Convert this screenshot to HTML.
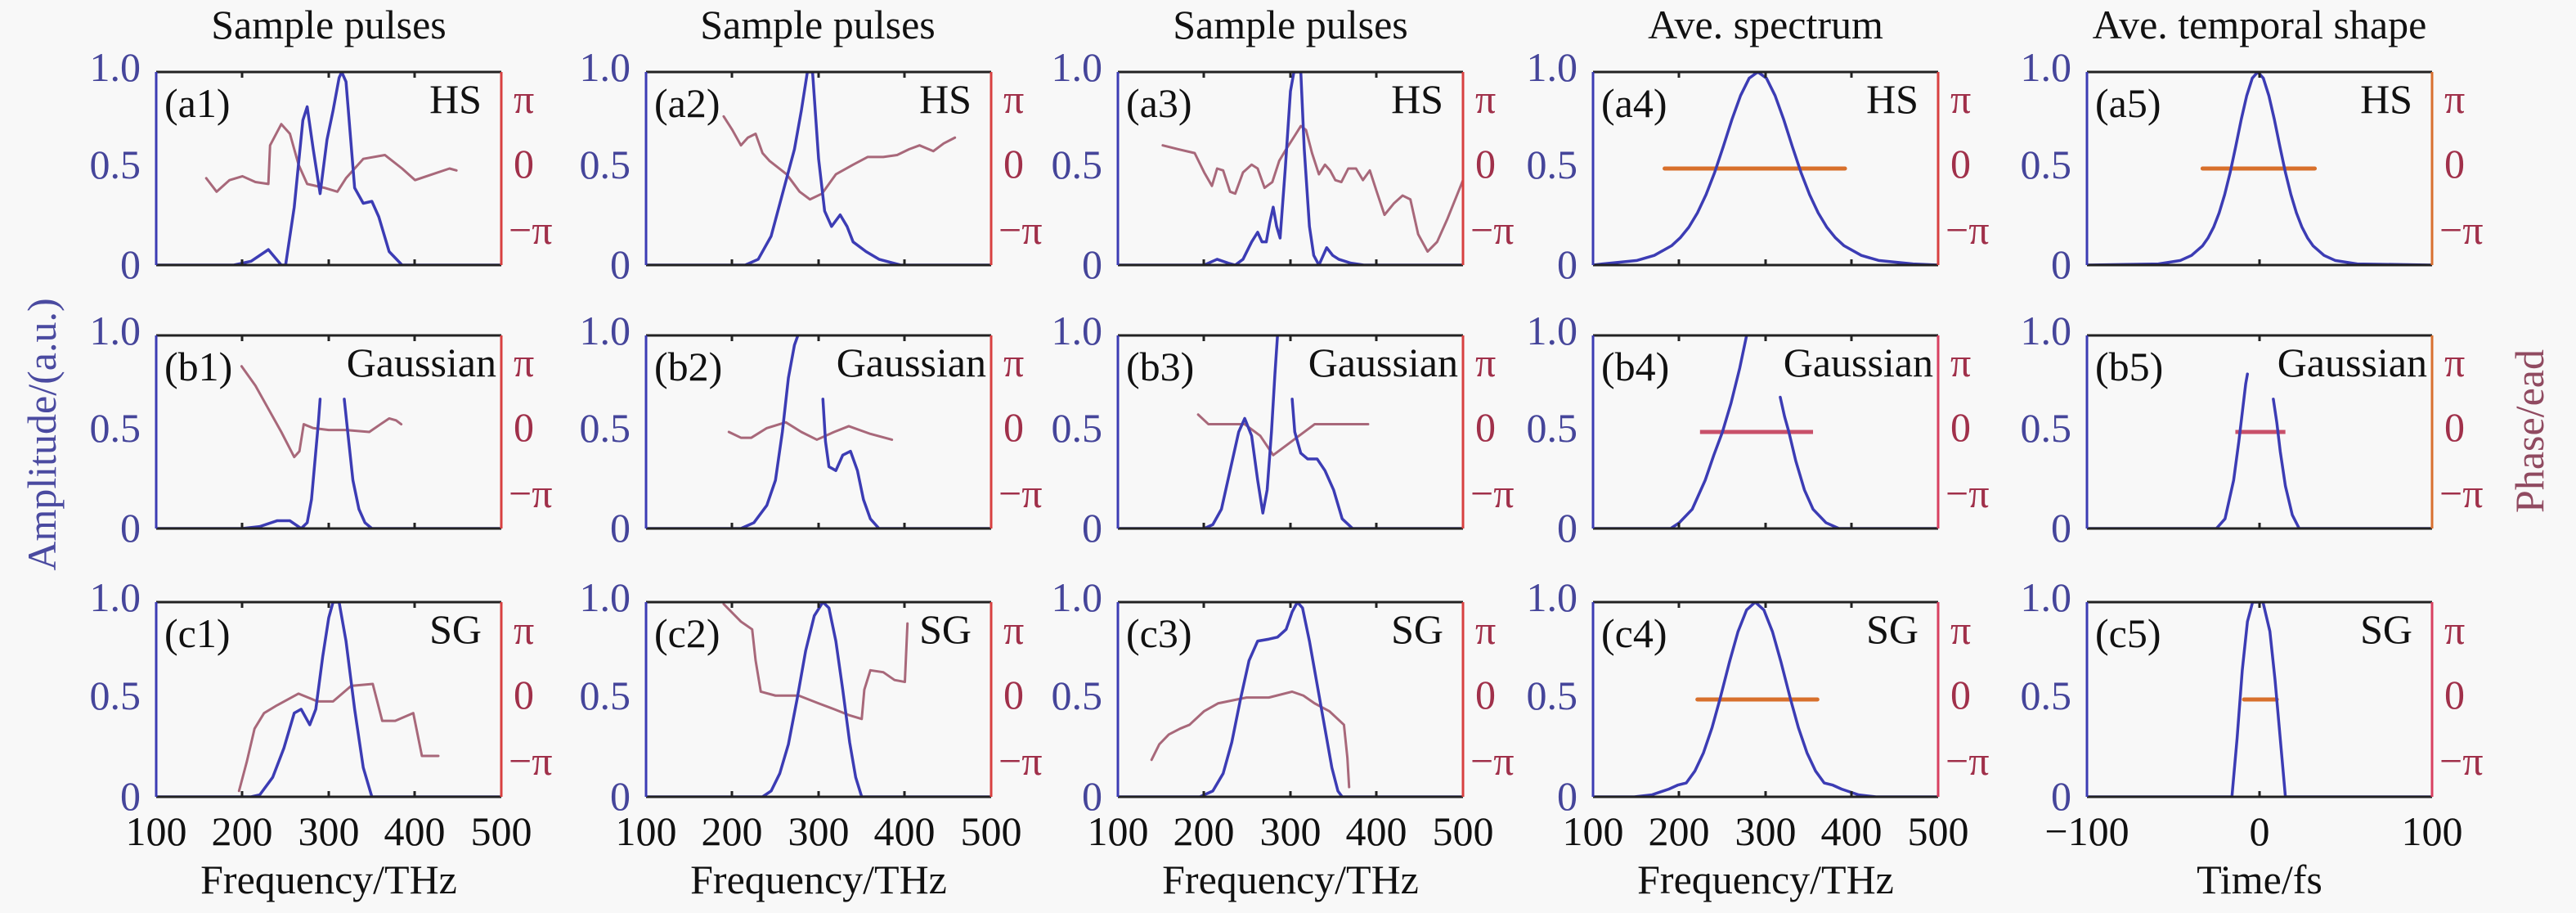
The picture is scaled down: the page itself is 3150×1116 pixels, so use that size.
<!DOCTYPE html>
<html><head><meta charset="utf-8"><style>
html,body{margin:0;padding:0;background:#f8f8f8;}
svg{display:block;font-family:"Liberation Serif",serif;}
.c{fill:none;stroke-linejoin:round;stroke-linecap:round;}
.b{stroke:#3c3cb4;stroke-width:3.5;}
.p{stroke:#a8687a;stroke-width:3;}
.f{stroke:#d8702c;stroke-width:5;}
.tl{font-size:50px;fill:#45459a;text-anchor:end;}
.tr{font-size:50px;fill:#a0304a;}
.tx{font-size:50px;fill:#111;text-anchor:middle;}
.lab{font-size:50px;fill:#111;}
</style></head><body>
<svg width="3150" height="1116" viewBox="0 0 3150 1116" xmlns="http://www.w3.org/2000/svg">
<rect width="3150" height="1116" fill="#f8f8f8"/>
<!-- titles -->
<g class="tx"><text x="402" y="47">Sample pulses</text><text x="1000" y="47">Sample pulses</text><text x="1578" y="47">Sample pulses</text><text x="2159" y="47">Ave. spectrum</text><text x="2763" y="47">Ave. temporal shape</text></g>
<text transform="translate(68,531) rotate(-90)" font-size="50" fill="#4a4aa0" text-anchor="middle">Amplitude/(a.u.)</text>
<text transform="translate(3110,527) rotate(-90)" font-size="50" fill="#904a60" text-anchor="middle">Phase/ead</text>

<!-- ROW A (top 88) -->
<svg x="191" y="88" width="422" height="236" viewBox="100 0 400 100" preserveAspectRatio="none">
<polyline class="c p" vector-effect="non-scaling-stroke" points="158,55 170,62 185,56 200,54 215,57 230,58 232,38 245,27 255,32 265,48 275,58 295,60 310,62 320,55 340,45 365,43 385,50 400,56 420,53 440,50 448,51"/>
<polyline class="c b" vector-effect="non-scaling-stroke" points="100,100 190,100 210,98 230,92 245,100 250,100 260,70 270,25 275,18 282,40 290,63 298,35 305,20 312,3 315,0 320,5 330,60 340,68 350,67 358,75 370,93 385,100 500,100"/>
</svg>
<svg x="790" y="88" width="422" height="236" viewBox="100 0 400 100" preserveAspectRatio="none">
<polyline class="c p" vector-effect="non-scaling-stroke" points="190,23 200,30 210,38 218,34 227,32 235,42 243,46 263,53 278,62 290,66 304,63 320,53 340,48 357,44 375,44 391,43 405,40 417,38 433,41 445,37 458,34"/>
<polyline class="c b" vector-effect="non-scaling-stroke" points="100,100 215,100 230,97 245,85 260,60 272,40 280,20 287,0 293,0 300,45 307,72 315,80 325,74 333,80 340,88 355,93 370,97 395,100 500,100"/>
</svg>
<svg x="1367" y="88" width="422" height="236" viewBox="100 0 400 100" preserveAspectRatio="none">
<polyline class="c p" vector-effect="non-scaling-stroke" points="152,38 170,40 189,42 200,52 209,59 215,50 222,51 230,62 236,63 245,52 255,48 262,50 270,60 279,57 287,46 295,40 305,33 312,28 318,30 325,42 333,53 340,48 346,51 352,56 359,57 367,50 376,50 384,56 392,51 400,62 409,74 420,68 430,64 439,66 448,84 459,93 470,88 482,76 500,56"/>
<polyline class="c b" vector-effect="non-scaling-stroke" points="100,100 200,100 215,97 228,99 236,100 245,97 255,88 262,83 267,88 272,88 276,78 280,70 284,80 288,86 294,50 300,10 304,0 312,0 316,40 322,80 327,95 333,100 337,96 342,91 349,95 356,97 370,99 385,100 500,100"/>
</svg>
<svg x="1948" y="88" width="422" height="236" viewBox="100 0 400 100" preserveAspectRatio="none">
<line x1="183" y1="50" x2="392" y2="50" class="c f" vector-effect="non-scaling-stroke"/>
<polyline class="c b" vector-effect="non-scaling-stroke" points="100,100 111,99.4 151,97.6 171,95 191,90 201,85.9 211,80.4 221,73 231,63.5 241,52 251,38.6 261,24.6 271,12.2 281,3.2 291,0 301,3.2 311,12.2 321,24.6 331,38.6 341,52 351,63.5 361,73 371,80.4 381,85.9 391,90 411,95 431,97.6 471,99.4 500,100"/>
</svg>
<svg x="2552" y="88" width="422" height="236" viewBox="-100 0 200 100" preserveAspectRatio="none">
<line x1="-33" y1="50" x2="32" y2="50" class="c f" vector-effect="non-scaling-stroke"/>
<polyline class="c b" vector-effect="non-scaling-stroke" points="-100,100 -58.6,99.4 -45.8,97.6 -39.4,95 -33,90 -29.8,85.9 -26.6,80.4 -23.4,73 -20.2,63.5 -17,52 -13.8,38.6 -10.6,24.6 -7.4,12.2 -4.2,3.2 -1,0 2.2,3.2 5.4,12.2 8.6,24.6 11.8,38.6 15,52 18.2,63.5 21.4,73 24.6,80.4 27.8,85.9 31,90 37.4,95 43.8,97.6 56.6,99.4 100,100"/>
</svg>

<!-- ROW B (top 410) -->
<svg x="191" y="410" width="422" height="236" viewBox="100 0 400 100" preserveAspectRatio="none">
<polyline class="c p" vector-effect="non-scaling-stroke" points="199,16 215,26 230,38 245,50 260,63 266,60 271,46 282,48 300,49 320,49 347,50 360,46 370,43 378,44 384,46"/>
<polyline class="c b" vector-effect="non-scaling-stroke" points="100,100 200,100 220,99 240,96 255,96 268,100 275,97 280,85 285,60 288,45 290,33"/>
<polyline class="c b" vector-effect="non-scaling-stroke" points="318,33 322,50 328,75 335,90 342,97 350,100 500,100"/>
</svg>
<svg x="790" y="410" width="422" height="236" viewBox="100 0 400 100" preserveAspectRatio="none">
<polyline class="c p" vector-effect="non-scaling-stroke" points="196,50 210,53 222,53 240,48 262,45 280,50 298,54 318,50 335,47 360,51 385,54"/>
<polyline class="c b" vector-effect="non-scaling-stroke" points="100,100 210,100 225,97 240,88 250,75 258,50 265,22 272,5 276,0"/>
<polyline class="c b" vector-effect="non-scaling-stroke" points="305,33 308,55 312,68 320,70 328,62 337,60 345,70 352,85 360,95 370,100 500,100"/>
</svg>
<svg x="1367" y="410" width="422" height="236" viewBox="100 0 400 100" preserveAspectRatio="none">
<polyline class="c p" vector-effect="non-scaling-stroke" points="193,41 205,46 222,46 247,46 265,52 280,62 295,57 310,52 328,46 390,46"/>
<polyline class="c b" vector-effect="non-scaling-stroke" points="100,100 200,100 210,98 220,90 230,70 240,50 247,43 255,52 262,75 268,92 273,80 278,50 282,20 285,0"/>
<polyline class="c b" vector-effect="non-scaling-stroke" points="302,33 305,50 312,61 320,64 331,64 340,70 350,80 360,95 372,100 500,100"/>
</svg>
<svg x="1948" y="410" width="422" height="236" viewBox="100 0 400 100" preserveAspectRatio="none">
<line x1="224" y1="50" x2="355" y2="50" stroke="#c8506a" stroke-width="5" vector-effect="non-scaling-stroke"/>
<polyline class="c b" vector-effect="non-scaling-stroke" points="100,100 190,100 200,97 215,90 230,75 240,62 250,50 260,35 270,17 278,0"/>
<polyline class="c b" vector-effect="non-scaling-stroke" points="317,32 322,42 327,50 335,65 345,80 355,90 370,97 385,100 500,100"/>
</svg>
<svg x="2552" y="410" width="422" height="236" viewBox="-100 0 200 100" preserveAspectRatio="none">
<line x1="-14" y1="50" x2="15" y2="50" stroke="#c8506a" stroke-width="5" vector-effect="non-scaling-stroke"/>
<polyline class="c b" vector-effect="non-scaling-stroke" points="-100,100 -25,100 -20,95 -15,75 -12,55 -10,40 -8,25 -7,20"/>
<polyline class="c b" vector-effect="non-scaling-stroke" points="8,33 10,45 12,60 15,78 19,93 23,100 100,100"/>
</svg>

<!-- ROW C (top 736) -->
<svg x="191" y="736" width="422" height="238" viewBox="100 0 400 100" preserveAspectRatio="none">
<polyline class="c p" vector-effect="non-scaling-stroke" points="196,97 205,82 214,65 225,57 240,53 265,47 287,51 305,51 326,43 351,42 362,61 377,61 398,57 408,79 427,79"/>
<polyline class="c b" vector-effect="non-scaling-stroke" points="100,100 210,100 220,99 235,90 248,75 260,57 268,55 278,63 285,55 293,28 300,8 305,0 312,0 320,20 330,55 340,85 350,100 500,100"/>
</svg>
<svg x="790" y="736" width="422" height="238" viewBox="100 0 400 100" preserveAspectRatio="none">
<polyline class="c p" vector-effect="non-scaling-stroke" points="190,1 210,10 223,14 227,30 233,46 250,48 277,48 300,52 318,55 335,58 350,60 353,45 360,35 375,36 388,40 400,41 403,11"/>
<polyline class="c b" vector-effect="non-scaling-stroke" points="100,100 235,100 245,97 255,88 265,73 275,50 285,25 295,7 305,0 312,3 320,20 328,45 336,72 343,90 350,100 500,100"/>
</svg>
<svg x="1367" y="736" width="422" height="238" viewBox="100 0 400 100" preserveAspectRatio="none">
<polyline class="c p" vector-effect="non-scaling-stroke" points="139,81 148,73 159,68 172,65 183,63 200,56 216,52 249,49 275,49 302,46 315,48 328,52 345,56 362,63 366,80 368,95"/>
<polyline class="c b" vector-effect="non-scaling-stroke" points="100,100 195,100 210,97 222,88 232,72 242,50 252,30 262,20 275,19 285,18 295,14 302,5 308,0 314,3 322,20 330,40 340,65 348,85 355,97 360,100 500,100"/>
</svg>
<svg x="1948" y="736" width="422" height="238" viewBox="100 0 400 100" preserveAspectRatio="none">
<line x1="221" y1="50" x2="360" y2="50" class="c f" vector-effect="non-scaling-stroke"/>
<polyline class="c b" vector-effect="non-scaling-stroke" points="100,100 148,100 168,99 188,96 198,94 208,92.9 218,86.8 228,77.4 238,64.4 247,50 258,31 268,15.2 278,4 288,0 298,4 308,15.2 318,31 329,50 338,64.4 348,77.4 358,86.8 368,92.9 378,94 388,96 408,99 428,100 500,100"/>
</svg>
<svg x="2552" y="736" width="422" height="238" viewBox="-100 0 200 100" preserveAspectRatio="none">
<line x1="-9" y1="50" x2="10" y2="50" class="c f" vector-effect="non-scaling-stroke"/>
<polyline class="c b" vector-effect="non-scaling-stroke" points="-100,100 -16,100 -13,70 -10,35 -7,10 -4,0 2,0 6,15 9,40 12,70 15,100 100,100"/>
</svg>

<!-- spines, ticks, labels -->
<g id="frames" fill="none">
<!-- generated per panel -->
</g>
<g stroke-width="3" fill="none">
<!-- Row A -->
<path d="M191,88H613M191,324H613" stroke="#222"/><path d="M191,88V324" stroke="#3c3cb4"/><path d="M613,88V324" stroke="#d84040"/>
<path d="M790,88H1212M790,324H1212" stroke="#222"/><path d="M790,88V324" stroke="#3c3cb4"/><path d="M1212,88V324" stroke="#d84040"/>
<path d="M1367,88H1789M1367,324H1789" stroke="#222"/><path d="M1367,88V324" stroke="#3c3cb4"/><path d="M1789,88V324" stroke="#d84040"/>
<path d="M1948,88H2370M1948,324H2370" stroke="#222"/><path d="M1948,88V324" stroke="#3c3cb4"/><path d="M2370,88V324" stroke="#d84040"/>
<path d="M2552,88H2974M2552,324H2974" stroke="#222"/><path d="M2552,88V324" stroke="#3c3cb4"/><path d="M2974,88V324" stroke="#d87030"/>
<!-- Row B -->
<path d="M191,410H613M191,646H613" stroke="#222"/><path d="M191,410V646" stroke="#3c3cb4"/><path d="M613,410V646" stroke="#d84040"/>
<path d="M790,410H1212M790,646H1212" stroke="#222"/><path d="M790,410V646" stroke="#3c3cb4"/><path d="M1212,410V646" stroke="#d84040"/>
<path d="M1367,410H1789M1367,646H1789" stroke="#222"/><path d="M1367,410V646" stroke="#3c3cb4"/><path d="M1789,410V646" stroke="#d84040"/>
<path d="M1948,410H2370M1948,646H2370" stroke="#222"/><path d="M1948,410V646" stroke="#3c3cb4"/><path d="M2370,410V646" stroke="#d84060"/>
<path d="M2552,410H2974M2552,646H2974" stroke="#222"/><path d="M2552,410V646" stroke="#3c3cb4"/><path d="M2974,410V646" stroke="#d87030"/>
<!-- Row C -->
<path d="M191,736H613M191,974H613" stroke="#222"/><path d="M191,736V974" stroke="#3c3cb4"/><path d="M613,736V974" stroke="#d84040"/>
<path d="M790,736H1212M790,974H1212" stroke="#222"/><path d="M790,736V974" stroke="#3c3cb4"/><path d="M1212,736V974" stroke="#d84040"/>
<path d="M1367,736H1789M1367,974H1789" stroke="#222"/><path d="M1367,736V974" stroke="#3c3cb4"/><path d="M1789,736V974" stroke="#d84040"/>
<path d="M1948,736H2370M1948,974H2370" stroke="#222"/><path d="M1948,736V974" stroke="#3c3cb4"/><path d="M2370,736V974" stroke="#d84060"/>
<path d="M2552,736H2974M2552,974H2974" stroke="#222"/><path d="M2552,736V974" stroke="#3c3cb4"/><path d="M2974,736V974" stroke="#d84060"/>
</g>
<!-- ticks -->
<g stroke="#222" stroke-width="3">
<path d="M296,88v7M402,88v7M507,88v7M296,324v-7M402,324v-7M507,324v-7M895,88v7M1001,88v7M1106,88v7M895,324v-7M1001,324v-7M1106,324v-7M1472,88v7M1578,88v7M1683,88v7M1472,324v-7M1578,324v-7M1683,324v-7M2053,88v7M2159,88v7M2264,88v7M2053,324v-7M2159,324v-7M2264,324v-7M2763,88v7M2763,324v-7"/>
<path d="M296,410v7M402,410v7M507,410v7M296,646v-7M402,646v-7M507,646v-7M895,410v7M1001,410v7M1106,410v7M895,646v-7M1001,646v-7M1106,646v-7M1472,410v7M1578,410v7M1683,410v7M1472,646v-7M1578,646v-7M1683,646v-7M2053,410v7M2159,410v7M2264,410v7M2053,646v-7M2159,646v-7M2264,646v-7M2763,410v7M2763,646v-7"/>
<path d="M296,736v7M402,736v7M507,736v7M296,974v-7M402,974v-7M507,974v-7M895,736v7M1001,736v7M1106,736v7M895,974v-7M1001,974v-7M1106,974v-7M1472,736v7M1578,736v7M1683,736v7M1472,974v-7M1578,974v-7M1683,974v-7M2053,736v7M2159,736v7M2264,736v7M2053,974v-7M2159,974v-7M2264,974v-7M2763,736v7M2763,974v-7"/>
</g>
<!-- left tick labels -->
<g class="tl">
<text x="172" y="99">1.0</text><text x="172" y="218">0.5</text><text x="172" y="340">0</text>
<text x="771" y="99">1.0</text><text x="771" y="218">0.5</text><text x="771" y="340">0</text>
<text x="1348" y="99">1.0</text><text x="1348" y="218">0.5</text><text x="1348" y="340">0</text>
<text x="1929" y="99">1.0</text><text x="1929" y="218">0.5</text><text x="1929" y="340">0</text>
<text x="2533" y="99">1.0</text><text x="2533" y="218">0.5</text><text x="2533" y="340">0</text>
<text x="172" y="421">1.0</text><text x="172" y="540">0.5</text><text x="172" y="662">0</text>
<text x="771" y="421">1.0</text><text x="771" y="540">0.5</text><text x="771" y="662">0</text>
<text x="1348" y="421">1.0</text><text x="1348" y="540">0.5</text><text x="1348" y="662">0</text>
<text x="1929" y="421">1.0</text><text x="1929" y="540">0.5</text><text x="1929" y="662">0</text>
<text x="2533" y="421">1.0</text><text x="2533" y="540">0.5</text><text x="2533" y="662">0</text>
<text x="172" y="747">1.0</text><text x="172" y="867">0.5</text><text x="172" y="990">0</text>
<text x="771" y="747">1.0</text><text x="771" y="867">0.5</text><text x="771" y="990">0</text>
<text x="1348" y="747">1.0</text><text x="1348" y="867">0.5</text><text x="1348" y="990">0</text>
<text x="1929" y="747">1.0</text><text x="1929" y="867">0.5</text><text x="1929" y="990">0</text>
<text x="2533" y="747">1.0</text><text x="2533" y="867">0.5</text><text x="2533" y="990">0</text>
</g>
<!-- right tick labels -->
<g class="tr">
<text x="628" y="138">π</text><text x="628" y="217">0</text><text x="622" y="298">−π</text>
<text x="1227" y="138">π</text><text x="1227" y="217">0</text><text x="1221" y="298">−π</text>
<text x="1804" y="138">π</text><text x="1804" y="217">0</text><text x="1798" y="298">−π</text>
<text x="2385" y="138">π</text><text x="2385" y="217">0</text><text x="2379" y="298">−π</text>
<text x="2989" y="138">π</text><text x="2989" y="217">0</text><text x="2983" y="298">−π</text>
<text x="628" y="460">π</text><text x="628" y="539">0</text><text x="622" y="620">−π</text>
<text x="1227" y="460">π</text><text x="1227" y="539">0</text><text x="1221" y="620">−π</text>
<text x="1804" y="460">π</text><text x="1804" y="539">0</text><text x="1798" y="620">−π</text>
<text x="2385" y="460">π</text><text x="2385" y="539">0</text><text x="2379" y="620">−π</text>
<text x="2989" y="460">π</text><text x="2989" y="539">0</text><text x="2983" y="620">−π</text>
<text x="628" y="787">π</text><text x="628" y="866">0</text><text x="622" y="947">−π</text>
<text x="1227" y="787">π</text><text x="1227" y="866">0</text><text x="1221" y="947">−π</text>
<text x="1804" y="787">π</text><text x="1804" y="866">0</text><text x="1798" y="947">−π</text>
<text x="2385" y="787">π</text><text x="2385" y="866">0</text><text x="2379" y="947">−π</text>
<text x="2989" y="787">π</text><text x="2989" y="866">0</text><text x="2983" y="947">−π</text>
</g>
<!-- panel labels -->
<g class="lab">
<text x="201" y="143">(a1)</text><text x="800" y="143">(a2)</text><text x="1377" y="143">(a3)</text><text x="1958" y="143">(a4)</text><text x="2562" y="143">(a5)</text>
<text x="201" y="465">(b1)</text><text x="800" y="465">(b2)</text><text x="1377" y="465">(b3)</text><text x="1958" y="465">(b4)</text><text x="2562" y="465">(b5)</text>
<text x="201" y="791">(c1)</text><text x="800" y="791">(c2)</text><text x="1377" y="791">(c3)</text><text x="1958" y="791">(c4)</text><text x="2562" y="791">(c5)</text>
</g>
<g class="lab" text-anchor="end">
<text x="589" y="138">HS</text><text x="1188" y="138">HS</text><text x="1765" y="138">HS</text><text x="2346" y="138">HS</text><text x="2950" y="138">HS</text>
<text x="607" y="460">Gaussian</text><text x="1206" y="460">Gaussian</text><text x="1783" y="460">Gaussian</text><text x="2364" y="460">Gaussian</text><text x="2968" y="460">Gaussian</text>
<text x="589" y="786">SG</text><text x="1188" y="786">SG</text><text x="1765" y="786">SG</text><text x="2346" y="786">SG</text><text x="2950" y="786">SG</text>
</g>
<!-- x tick labels -->
<g class="tx">
<text x="191" y="1033">100</text><text x="296" y="1033">200</text><text x="402" y="1033">300</text><text x="507" y="1033">400</text><text x="613" y="1033">500</text>
<text x="790" y="1033">100</text><text x="895" y="1033">200</text><text x="1001" y="1033">300</text><text x="1106" y="1033">400</text><text x="1212" y="1033">500</text>
<text x="1367" y="1033">100</text><text x="1472" y="1033">200</text><text x="1578" y="1033">300</text><text x="1683" y="1033">400</text><text x="1789" y="1033">500</text>
<text x="1948" y="1033">100</text><text x="2053" y="1033">200</text><text x="2159" y="1033">300</text><text x="2264" y="1033">400</text><text x="2370" y="1033">500</text>
<text x="2552" y="1033">−100</text><text x="2763" y="1033">0</text><text x="2974" y="1033">100</text>
<text x="402" y="1092">Frequency/THz</text><text x="1001" y="1092">Frequency/THz</text><text x="1578" y="1092">Frequency/THz</text><text x="2159" y="1092">Frequency/THz</text><text x="2763" y="1092">Time/fs</text>
</g>
</svg>
</body></html>
